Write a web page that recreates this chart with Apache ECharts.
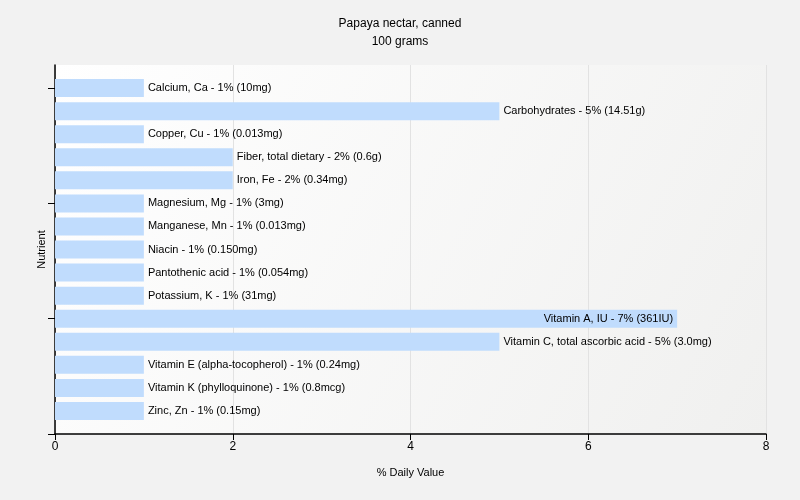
<!DOCTYPE html>
<html><head><meta charset="utf-8">
<script src="https://cdn.jsdelivr.net/npm/echarts@6/dist/echarts.min.js"></script>
<style>html,body{margin:0;padding:0;background:#f2f2f2}#c{width:800px;height:500px}</style>
</head><body><div id="c"></div>
<script>
var categories = ["Calcium, Ca","Carbohydrates","Copper, Cu","Fiber, total dietary","Iron, Fe","Magnesium, Mg","Manganese, Mn","Niacin","Pantothenic acid","Potassium, K","Vitamin A, IU","Vitamin C, total ascorbic acid","Vitamin E (alpha-tocopherol)","Vitamin K (phylloquinone)","Zinc, Zn"];
var values = [1,5,1,2,2,1,1,1,1,1,7,5,1,1,1];
var amounts = ["10mg","14.51g","0.013mg","0.6g","0.34mg","3mg","0.013mg","0.150mg","0.054mg","31mg","361IU","3.0mg","0.24mg","0.8mcg","0.15mg"];
var xTicks = [0,2,4,6,8];

var font = "Liberation Sans, Arial, sans-serif";
var cats = [""].concat(categories).concat([""]);
var data = [{value:'-'}];
for (var i=0;i<categories.length;i++){
  var inside = values[i] >= 7;
  data.push({
    value: values[i],
    label: {
      show: true,
      position: inside ? 'insideRight' : 'right',
      distance: 4,
      formatter: categories[i] + ' - ' + values[i] + '% (' + amounts[i] + ')',
      color: '#000', fontSize: 11, fontFamily: font
    }
  });
}
data.push({value:'-'});

var chart = echarts.init(document.getElementById('c'));
chart.setOption({
  backgroundColor: '#f2f2f2',
  animation: false,
  title: {
    text: 'Papaya nectar, canned\n100 grams',
    left: 'center', top: 10,
    textStyle: {fontSize: 12, fontWeight: 'normal', color: '#000', fontFamily: font, lineHeight: 18}
  },
  grid: {
    left: 55, right: 34, top: 65, bottom: 66, show: true, borderWidth: 0,
    backgroundColor: {type:'linear', x:0, y:0, x2:1, y2:1, colorStops:[{offset:0,color:'#ffffff'},{offset:1,color:'#f0f0ef'}]}
  },
  xAxis: {
    type: 'value', min: 0, max: xTicks[xTicks.length-1], interval: 2,
    name: '% Daily Value', nameLocation: 'middle', nameGap: 33,
    nameTextStyle: {fontSize: 11, color: '#000', fontFamily: font},
    axisLine: {show: true, lineStyle: {color: '#000', width: 1.5}},
    axisTick: {show: true, length: 6, lineStyle: {color: '#000'}},
    axisLabel: {fontSize: 12, color: '#000', fontFamily: font, margin: 7},
    splitLine: {show: true, lineStyle: {color: '#e2e2e2'}}
  },
  yAxis: {
    type: 'category', data: cats, inverse: true, boundaryGap: false,
    name: 'Nutrient', nameLocation: 'middle', nameGap: 8, nameRotate: 90,
    nameTextStyle: {fontSize: 11, color: '#000', fontFamily: font},
    axisLine: {show: true, lineStyle: {color: '#000', width: 1.5}},
    axisTick: {show: true, length: 7, interval: function(idx){ return idx % 5 === 1; }, lineStyle: {color: '#000'}},
    axisLabel: {show: false},
    splitLine: {show: false}
  },
  series: [{
    type: 'bar', data: data, barWidth: 18,
    itemStyle: {color: '#c0dcfd'}
  }]
});
</script></body></html>
